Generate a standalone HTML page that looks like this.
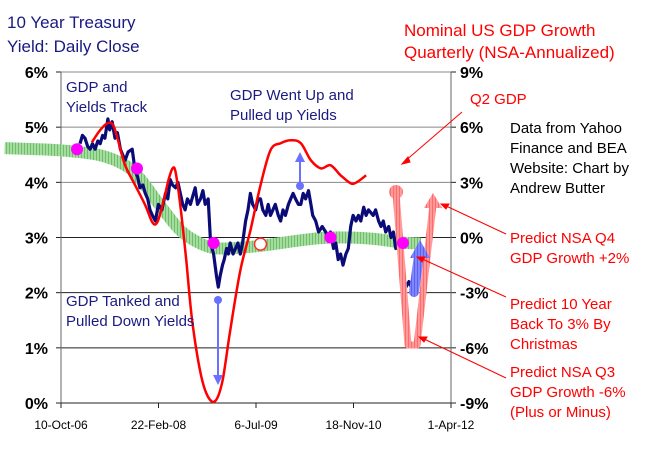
<!DOCTYPE html>
<html><head><meta charset="utf-8"><style>
body{margin:0;background:#fff;}
svg text{font-family:"Liberation Sans",sans-serif;}
</style></head><body>
<svg id="c" width="651" height="453" viewBox="0 0 651 453" xmlns="http://www.w3.org/2000/svg">
<defs>
<pattern id="gp" width="3" height="3" patternUnits="userSpaceOnUse"><rect width="3" height="3" fill="#a6dca0"/><rect width="1" height="3" fill="#6cc06a"/></pattern>
<pattern id="pp" width="3" height="3" patternUnits="userSpaceOnUse"><rect width="3" height="3" fill="#ff9a9a"/><rect width="1" height="3" fill="#ff6b6b"/></pattern>
<pattern id="bp" width="3" height="3" patternUnits="userSpaceOnUse"><rect width="3" height="3" fill="#7f86ff"/><rect width="1" height="3" fill="#5a62f0"/></pattern>
</defs>
<g id="grid"></g>
<g id="axes"></g>
<g id="series"></g>
<g font-size="15">
<text x="7" y="28" fill="#1a1a80" font-size="17">10 Year Treasury</text>
<text x="7" y="52" fill="#1a1a80" font-size="17">Yield: Daily Close</text>
<text x="404" y="36" fill="#ff0000" font-size="17">Nominal US GDP Growth</text>
<text x="404" y="58" fill="#ff0000" font-size="17">Quarterly (NSA-Annualized)</text>
<text x="66" y="92" fill="#1a1a80"><tspan x="66">GDP and</tspan><tspan x="66" dy="20">Yields Track</tspan></text>
<text x="230" y="100" fill="#1a1a80"><tspan x="230">GDP Went Up and</tspan><tspan x="230" dy="20">Pulled up Yields</tspan></text>
<text x="66" y="306" fill="#1a1a80"><tspan x="66">GDP Tanked and</tspan><tspan x="66" dy="20">Pulled Down Yields</tspan></text>
<text x="470" y="104" fill="#ff0000">Q2 GDP</text>
<text x="510" y="133" fill="#000"><tspan x="510">Data from Yahoo</tspan><tspan x="510" dy="20">Finance and BEA</tspan><tspan x="510" dy="20">Website: Chart by</tspan><tspan x="510" dy="20">Andrew Butter</tspan></text>
<text x="510" y="243" fill="#ff0000"><tspan x="510">Predict NSA Q4</tspan><tspan x="510" dy="20">GDP Growth +2%</tspan></text>
<text x="510" y="309" fill="#ff0000"><tspan x="510">Predict 10 Year</tspan><tspan x="510" dy="20">Back To 3% By</tspan><tspan x="510" dy="20">Christmas</tspan></text>
<text x="510" y="377" fill="#ff0000"><tspan x="510">Predict NSA Q3</tspan><tspan x="510" dy="20">GDP Growth -6%</tspan><tspan x="510" dy="20">(Plus or Minus)</tspan></text>
<g stroke="#ff0000" stroke-width="1" fill="#ff0000">
<line x1="462" y1="112" x2="404" y2="162"/><polygon points="402,164 408,157 410,162"/>
<line x1="506" y1="234" x2="444" y2="205"/><polygon points="441,204 449,204 446,209"/>
<line x1="506" y1="297" x2="420" y2="258"/><polygon points="417,257 425,257 422,262"/>
<line x1="506" y1="378" x2="422" y2="338"/><polygon points="419,337 427,337 424,342"/>
</g>
</g>
</svg>
<script>
// months since 10-Oct-06
const yieldMonths=[3.2,3.6,4.05,4.5,4.9,5.3,5.74,6.2,6.6,7.0,7.4,7.9,8.2,8.6,9.1,9.5,10,10.4,10.8,11.3,12,12.5,12.9,13.3,13.8,14.2,14.6,15,15.4,15.9,16.4,17,17.6,18,18.4,18.8,19.3,19.7,20.1,20.5,20.9,21.3,21.8,22.2,22.6,23,23.5,23.9,24.3,24.8,25.2,25.7,26.2,26.5,26.8,27.2,27.5,27.9,28.2,28.5,29,29.4,29.8,30.2,30.6,31.1,31.5,31.9,32.3,32.8,33.2,33.6,34,34.5,34.9,35.3,35.7,36.1,36.6,37,37.4,37.8,38.3,38.7,39.1,39.5,40,40.4,40.8,41.2,41.7,42.1,42.4,42.9,43.4,44,44.6,45,45.4,45.9,46.3,46.7,47.1,47.5,48,48.4,48.8,49.2,49.7,50.1,50.5,51,51.4,51.8,52.2,52.6,53,53.5,53.9,54.3,54.7,55.2,55.6,56,56.4,56.9,57.3,57.7,58.1,58.6,59,59.3,59.7,60];
const yieldVals=[4.7,4.85,4.8,4.65,4.6,4.7,4.6,4.75,4.7,4.85,4.8,5.15,4.95,5.1,4.8,4.9,4.6,4.5,4.4,4.55,4.6,4.2,4.1,3.9,3.95,3.8,3.7,3.5,3.4,3.3,3.6,3.5,3.8,3.7,4.05,3.95,3.9,4.0,3.8,3.6,3.5,3.7,3.6,3.75,3.9,3.6,3.7,3.85,3.6,3.7,2.9,2.7,2.3,2.1,2.3,2.5,2.6,2.8,2.7,2.9,2.7,2.8,2.9,2.7,2.9,3.3,3.5,3.8,3.6,3.5,3.7,3.7,3.5,3.4,3.6,3.4,3.5,3.6,3.4,3.3,3.5,3.4,3.6,3.7,3.8,3.7,3.6,3.6,3.8,3.7,3.85,3.6,3.4,3.3,3.1,3.2,3.1,3.0,3.1,2.8,2.9,2.6,2.7,2.5,2.7,2.8,3.2,3.4,3.3,3.4,3.3,3.55,3.4,3.5,3.45,3.4,3.5,3.3,3.2,3.3,3.1,3.2,3.0,3.1,2.8,2.9,2.6,2.3,2.1,2.2,2.1];
const gdpMonths=[5.2,6.6,7.9,8.8,9.6,10.8,12.5,14.2,15.4,16.2,17.1,18.1,18.8,19.3,20.1,21.1,22.1,23.5,24.7,26,27.2,28.5,30.2,31.9,33.6,35.3,37,38.7,40.4,42.1,43.8,45.4,47.1,48.8,49.8,51.4];
const gdpVals=[5.18,5.84,6.22,6.11,5.29,3.93,2.84,1.75,0.82,0.82,1.75,3.11,3.76,3.55,1.75,-1.25,-4.53,-7.36,-8.62,-8.89,-7.8,-5.07,-1.8,0.38,2.84,4.75,5.13,5.29,5.13,4.2,3.76,3.93,3.38,2.95,3.0,3.38];
const trendMonths=[-9.5,-0.2,6.6,10.8,13.3,16.7,20.1,23.5,26.9,33.6,40.4,45.4,52.2,57.3,60.6];
const trendVals=[4.62,4.58,4.49,4.31,4.07,3.58,3.13,2.89,2.8,2.85,2.95,3.0,2.98,2.91,2.89];
const dotMonths=[2.7,12.8,25.7,45.4,57.6];
const dotVals=[4.6,4.25,2.9,3.0,2.9];
const leftTicks=["0%","1%","2%","3%","4%","5%","6%"];
const rightTicks=["-9%","-6%","-3%","0%","3%","6%","9%"];
const dateTicks=["10-Oct-06","22-Feb-08","6-Jul-09","18-Nov-10","1-Apr-12"];
const X0=61,X1=451,Y0=403,Y1=72,MMAX=65.7;
const xs=m=>X0+(m/MMAX)*(X1-X0);
const yl=v=>Y0-(v/6)*(Y0-Y1);
const yr=v=>Y0-((v+9)/18)*(Y0-Y1);
const NS="http://www.w3.org/2000/svg";
function mk(tag,attrs,parent){const e=document.createElementNS(NS,tag);for(const k in attrs)e.setAttribute(k,attrs[k]);parent.appendChild(e);return e;}
const grid=document.getElementById('grid'),axes=document.getElementById('axes'),ser=document.getElementById('series');
leftTicks.forEach((t,i)=>{const y=yl(i);
 if(i>0){const g=mk('line',{x1:X0,x2:X1,y1:y,y2:y,stroke:i>=4?'#888':'#222','stroke-width':1},grid);}
 const tx=mk('text',{x:48,y:y+6,'text-anchor':'end','font-size':16,'font-weight':'bold'},axes);tx.textContent=t;
 
 mk('line',{x1:X0-5,x2:X0,y1:y,y2:y,stroke:'#222'},axes);
});
rightTicks.forEach((t,i)=>{const y=yr(-9+3*i);
 const tx=mk('text',{x:460,y:y+6,'font-size':16,'font-weight':'bold'},axes);tx.textContent=t;
 
 mk('line',{x1:X1,x2:X1+5,y1:y,y2:y,stroke:'#222'},axes);
});
dateTicks.forEach((t,i)=>{const x=X0+i*(X1-X0)/4;
 mk('line',{x1:x,x2:x,y1:Y0,y2:Y0+5,stroke:'#222'},axes);
 const tx=mk('text',{x:x,y:429,'text-anchor':'middle','font-size':12},axes);tx.textContent=t;
 
});
mk('line',{x1:X0,x2:X0,y1:Y1,y2:Y0,stroke:'#666'},axes);
mk('line',{x1:X1,x2:X1,y1:Y1,y2:Y0,stroke:'#666'},axes);
mk('line',{x1:X0,x2:X1,y1:Y0,y2:Y0,stroke:'#222'},axes);
const pts=(ms,vs,f)=>ms.map((m,i)=>xs(m).toFixed(1)+','+f(vs[i]).toFixed(1)).join(' ');
function smooth(ms,vs,f){const P=ms.map((m,i)=>[xs(m),f(vs[i])]);let d='M'+P[0][0]+','+P[0][1];
 for(let i=0;i<P.length-1;i++){const p0=P[Math.max(0,i-1)],p1=P[i],p2=P[i+1],p3=P[Math.min(P.length-1,i+2)];
  const c1=[p1[0]+(p2[0]-p0[0])/6,p1[1]+(p2[1]-p0[1])/6],c2=[p2[0]-(p3[0]-p1[0])/6,p2[1]-(p3[1]-p1[1])/6];
  d+=' C'+c1[0].toFixed(1)+','+c1[1].toFixed(1)+' '+c2[0].toFixed(1)+','+c2[1].toFixed(1)+' '+p2[0].toFixed(1)+','+p2[1].toFixed(1);}
 return d;}
const tr=mk('path',{d:smooth(trendMonths,trendVals,yl),fill:'none',stroke:'url(#gp)','stroke-width':12,'stroke-linejoin':'round'},ser);

const yline=mk('polyline',{points:pts(yieldMonths,yieldVals,yl),fill:'none',stroke:'#0b0b78','stroke-width':3.2,'stroke-linejoin':'round'},ser);

const gline=mk('path',{d:smooth(gdpMonths,gdpVals,yr),fill:'none',stroke:'#ff0000','stroke-width':2.5,'stroke-linejoin':'round'},ser);

// prediction V arrow
const v=mk('polyline',{points:'396,193 408,345 417,345 433,205',fill:'none',stroke:'url(#pp)','stroke-width':7,'stroke-linejoin':'round'},ser);

mk('circle',{cx:396,cy:192,r:7,fill:'url(#pp)'},ser);
mk('polygon',{points:'433,193 424,208 442,208',fill:'url(#pp)'},ser);
// blue arrows
const b1=mk('g',{},ser);
mk('line',{x1:300,y1:186,x2:300,y2:160,stroke:'#6a70ff','stroke-width':2},b1);mk('circle',{cx:300,cy:186,r:4,fill:'#6a70ff'},b1);mk('polygon',{points:'300,152 295,162 305,162',fill:'#6a70ff'},b1);
const b2=mk('g',{},ser);
mk('line',{x1:218,y1:300,x2:218,y2:378,stroke:'#6a70ff','stroke-width':2},b2);mk('circle',{cx:218,cy:300,r:4,fill:'#6a70ff'},b2);mk('polygon',{points:'218,385 213,375 223,375',fill:'#6a70ff'},b2);
const b3=mk('g',{},ser);
mk('polyline',{points:'414,292 417,270 419,256',fill:'none',stroke:'url(#bp)','stroke-width':10,'stroke-linecap':'round'},b3);
mk('polygon',{points:'420,240 410,258 430,258',fill:'url(#bp)'},b3);
dotMonths.forEach((m,i)=>{const c=mk('circle',{cx:xs(m),cy:yl(dotVals[i]),r:6,fill:'#ff00ff'},ser);
 });
const w=mk('circle',{cx:xs(33.6),cy:yl(2.88),r:6,fill:'#fff',stroke:'#ff3030','stroke-width':1.5},ser);

</script>
</body></html>
